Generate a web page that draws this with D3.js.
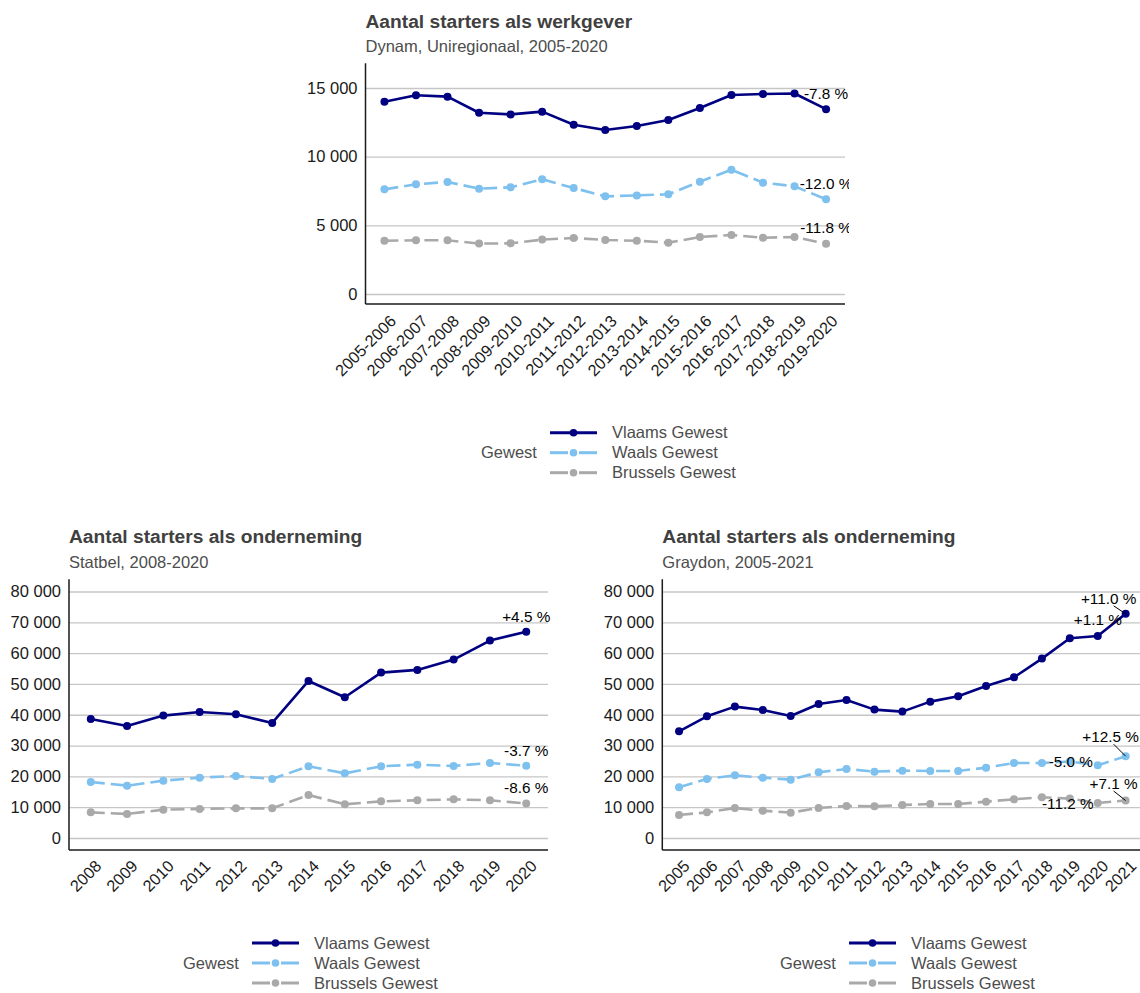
<!DOCTYPE html>
<html><head><meta charset="utf-8">
<script src="https://cdn.jsdelivr.net/npm/d3@7"></script>
<style>
body{margin:0;background:#fff}
svg text{font-family:"Liberation Sans", Arial, Helvetica, sans-serif}
</style>
</head><body>
<svg id="c" width="1140" height="993"></svg>
<script>
// ---------- DATA ----------
const seriesNames = ["Vlaams Gewest", "Waals Gewest", "Brussels Gewest"];
const legendTitle = "Gewest";

// Chart 1: Dynam, werkgevers
const topTitle = "Aantal starters als werkgever";
const topSubtitle = "Dynam, Uniregionaal, 2005-2020";
const topYears = ["2005-2006","2006-2007","2007-2008","2008-2009","2009-2010","2010-2011","2011-2012","2012-2013","2013-2014","2014-2015","2015-2016","2016-2017","2017-2018","2018-2019","2019-2020"];
const topVlaams   = [14000, 14470, 14370, 13200, 13080, 13280, 12330, 11940, 12230, 12670, 13540, 14490, 14560, 14600, 13460];
const topWaals    = [7620, 7990, 8160, 7670, 7770, 8350, 7720, 7110, 7180, 7260, 8180, 9050, 8110, 7840, 6900];
const topBrussels = [3880, 3910, 3910, 3670, 3690, 3960, 4080, 3930, 3880, 3740, 4150, 4300, 4100, 4150, 3660];
const topTicks = [0, 5000, 10000, 15000];
const topLabels = [[0, 14, "-7.8 %"], [1, 14, "-12.0 %"], [2, 14, "-11.8 %"]];

// Chart 2: Statbel
const leftTitle = "Aantal starters als onderneming";
const leftSubtitle = "Statbel, 2008-2020";
const leftYears = ["2008","2009","2010","2011","2012","2013","2014","2015","2016","2017","2018","2019","2020"];
const leftVlaams   = [38640, 36360, 39720, 40910, 40150, 37340, 50970, 45670, 53680, 54550, 57900, 64070, 66950];
const leftWaals    = [18180, 16990, 18610, 19590, 20130, 19160, 23270, 21000, 23270, 23810, 23380, 24350, 23450];
const leftBrussels = [8330, 7790, 9200, 9420, 9630, 9630, 13960, 10930, 11900, 12230, 12550, 12230, 11180];
const leftTicks = [0, 10000, 20000, 30000, 40000, 50000, 60000, 70000, 80000];
const leftLabels = [[0, 12, "+4.5 %"], [1, 12, "-3.7 %"], [2, 12, "-8.6 %"]];

// Chart 3: Graydon
const rightTitle = "Aantal starters als onderneming";
const rightSubtitle = "Graydon, 2005-2021";
const rightYears = ["2005","2006","2007","2008","2009","2010","2011","2012","2013","2014","2015","2016","2017","2018","2019","2020","2021"];
const rightVlaams   = [34630, 39500, 42640, 41560, 39610, 43510, 44810, 41670, 41020, 44260, 46000, 49350, 52160, 58230, 64830, 65540, 72750];
const rightWaals    = [16450, 19160, 20350, 19590, 18940, 21320, 22400, 21540, 21860, 21750, 21750, 22840, 24350, 24350, 24840, 23600, 26550];
const rightBrussels = [7470, 8330, 9740, 8870, 8230, 9740, 10390, 10280, 10710, 11040, 11040, 11800, 12560, 13250, 12780, 11350, 12160];
const rightTicks = [0, 10000, 20000, 30000, 40000, 50000, 60000, 70000, 80000];
const rightLabels = [[0, 15, "+1.1 %"], [0, 16, "+11.0 %"], [1, 14, "-5.0 %"], [1, 16, "+12.5 %"], [2, 14, "-11.2 %"], [2, 16, "+7.1 %"]];

// ---------- STYLE / LAYOUT ----------
const seriesColors = ["#000080", "#7ec0ee", "#a9a9a9"];
const seriesDash = [null, "14,6", "14,6"];
const fmt = d3.formatLocale({decimal: ",", thousands: " ", grouping: [3], currency: ["", ""]}).format(",d");

const svg = d3.select("#c");
svg.append("rect").attr("width", 1140).attr("height", 993).attr("fill", "#fff");

function drawChart(cfg) {
  const g = svg.append("g");
  const x = d3.scalePoint().domain(cfg.cats).range([cfg.x0, cfg.x1]).padding(0.6);
  const y = d3.scaleLinear().domain(cfg.yDomain).range([cfg.yBottom, cfg.yTop]);

  // titles
  g.append("text").attr("x", cfg.x0).attr("y", cfg.titleY).text(cfg.title)
    .attr("font-size", 19.2).attr("font-weight", "bold").attr("fill", "#404040");
  g.append("text").attr("x", cfg.x0).attr("y", cfg.subY).text(cfg.subtitle)
    .attr("font-size", 16.5).attr("fill", "#4d4d4d");

  // y axis with grid
  const ya = g.append("g").attr("transform", `translate(${cfg.x0},0)`)
    .call(d3.axisLeft(y).tickValues(cfg.ticks).tickFormat(fmt)
      .tickSizeInner(-(cfg.gridRight - cfg.x0)).tickSizeOuter(0).tickPadding(8));
  ya.select(".domain").remove();
  ya.selectAll(".tick line").attr("stroke", "#c6c6c6").attr("stroke-width", 1.3);
  ya.selectAll(".tick text").attr("font-size", 16.5).attr("fill", "#1a1a1a")
    .attr("font-family", "Liberation Sans, Arial, sans-serif");

  // x axis
  const xa = g.append("g").attr("transform", `translate(0,${cfg.yBottom})`)
    .call(d3.axisBottom(x).tickSize(0).tickPadding(0));
  xa.select(".domain").remove();
  xa.selectAll(".tick text")
    .attr("font-size", cfg.xFont).attr("fill", "#1a1a1a")
    .attr("font-family", "Liberation Sans, Arial, sans-serif")
    .attr("text-anchor", "end").attr("y", 0).attr("dy", "0.71em")
    .attr("transform", `translate(${cfg.xlabDx},${cfg.xlabDy}) rotate(-45)`);

  // axis lines
  g.append("line").attr("x1", cfg.x0).attr("x2", cfg.x0).attr("y1", cfg.yTop).attr("y2", cfg.yBottom)
    .attr("stroke", "#1a1a1a").attr("stroke-width", 1.5);
  g.append("line").attr("x1", cfg.x0).attr("x2", cfg.axisRight).attr("y1", cfg.yBottom).attr("y2", cfg.yBottom)
    .attr("stroke", "#1a1a1a").attr("stroke-width", 1.5);

  // clip
  const cid = "clip" + cfg.id;
  svg.append("clipPath").attr("id", cid).append("rect")
    .attr("x", cfg.x0).attr("y", cfg.yTop - 20).attr("width", cfg.clipRight - cfg.x0).attr("height", cfg.yBottom - cfg.yTop + 20);
  const p = g.append("g").attr("clip-path", `url(#${cid})`);

  const line = d3.line().x((d, i) => x(cfg.cats[i])).y(d => y(d));
  cfg.series.forEach((vals, s) => {
    p.append("path").attr("d", line(vals)).attr("fill", "none")
      .attr("stroke", seriesColors[s]).attr("stroke-width", 2.6)
      .attr("stroke-dasharray", seriesDash[s]).attr("stroke-linejoin", "round");
  });
  cfg.series.forEach((vals, s) => {
    p.selectAll(null).data(vals).join("circle")
      .attr("cx", (d, i) => x(cfg.cats[i])).attr("cy", d => y(d)).attr("r", 4)
      .attr("fill", seriesColors[s]);
  });

  // value labels
  cfg.labels.forEach((lab, k) => {
    const [s, idx, txt] = lab;
    const off = cfg.labelOffsets[k];
    const px = x(cfg.cats[idx]), py = y(cfg.series[s][idx]);
    const lx = px + off[0], ly = py + off[1];
    if (off[2]) {
      p.append("line").attr("x1", px - 12).attr("y1", ly + 7.5).attr("x2", px).attr("y2", py)
        .attr("stroke", "#000").attr("stroke-width", 1);
    }
    p.append("text").attr("x", lx).attr("y", ly).attr("dy", "0.35em")
      .attr("text-anchor", "middle").attr("font-size", 15.3).attr("fill", "#000").text(txt);
  });

  // legend
  const lg = g.append("g");
  lg.append("text").attr("x", cfg.legKeyX - 69).attr("y", cfg.legY0 + 20).attr("dy", "0.35em")
    .attr("font-size", 16.5).attr("fill", "#4d4d4d").text(legendTitle);
  seriesNames.forEach((nm, s) => {
    const ry = cfg.legY0 + s * 20;
    const kx = cfg.legKeyX;
    if (seriesDash[s]) {
      lg.append("line").attr("x1", kx).attr("x2", kx + 18).attr("y1", ry).attr("y2", ry)
        .attr("stroke", seriesColors[s]).attr("stroke-width", 3);
      lg.append("line").attr("x1", kx + 29).attr("x2", kx + 47).attr("y1", ry).attr("y2", ry)
        .attr("stroke", seriesColors[s]).attr("stroke-width", 3);
    } else {
      lg.append("line").attr("x1", kx).attr("x2", kx + 47).attr("y1", ry).attr("y2", ry)
        .attr("stroke", seriesColors[s]).attr("stroke-width", 3);
    }
    lg.append("circle").attr("cx", kx + 23.5).attr("cy", ry).attr("r", 3.8).attr("fill", seriesColors[s]);
    lg.append("text").attr("x", kx + 62).attr("y", ry).attr("dy", "0.35em")
      .attr("font-size", 16.5).attr("fill", "#4d4d4d").text(nm);
  });
}

drawChart({
  id: 1, title: topTitle, subtitle: topSubtitle, cats: topYears,
  series: [topVlaams, topWaals, topBrussels], ticks: topTicks, labels: topLabels,
  labelOffsets: [[0, -16], [0, -16], [0, -16]],
  x0: 365.5, x1: 845, axisRight: 845, gridRight: 845, clipRight: 849,
  yTop: 63.3, yBottom: 304, yDomain: [-728, 16800],
  titleY: 28.3, subY: 51.7, xFont: 16.3, xlabDx: 4, xlabDy: 10,
  legKeyX: 550, legY0: 432.7
});
drawChart({
  id: 2, title: leftTitle, subtitle: leftSubtitle, cats: leftYears,
  series: [leftVlaams, leftWaals, leftBrussels], ticks: leftTicks, labels: leftLabels,
  labelOffsets: [[0, -15.5], [0, -15.5], [0, -15.5]],
  x0: 69, x1: 548, axisRight: 548, gridRight: 548, clipRight: 570,
  yTop: 579.3, yBottom: 850, yDomain: [-3894, 83960],
  titleY: 543.3, subY: 567.7, xFont: 16.3, xlabDx: 3, xlabDy: 9,
  legKeyX: 252, legY0: 943
});
drawChart({
  id: 3, title: rightTitle, subtitle: rightSubtitle, cats: rightYears,
  series: [rightVlaams, rightWaals, rightBrussels], ticks: rightTicks, labels: rightLabels,
  labelOffsets: [[0, -16], [-17, -15.5, true], [1, 0], [-15, -19.5, true], [-2, 5], [-12, -17, true]],
  x0: 662.3, x1: 1142.4, axisRight: 1142.4, gridRight: 1142.4, clipRight: 1142.4,
  yTop: 579.3, yBottom: 850, yDomain: [-3894, 83960],
  titleY: 543.3, subY: 567.7, xFont: 16.3, xlabDx: 3, xlabDy: 9,
  legKeyX: 849, legY0: 943
});
</script>
</body></html>
